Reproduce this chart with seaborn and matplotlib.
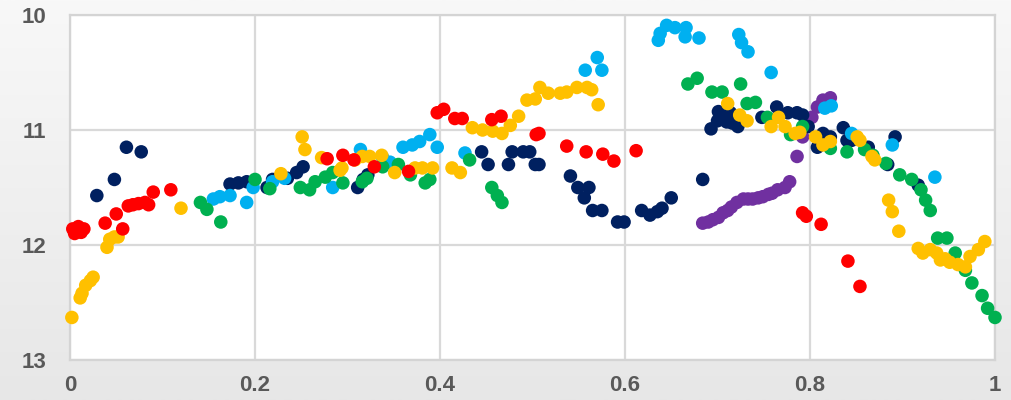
import numpy as np
import pandas as pd
import matplotlib
matplotlib.use("Agg")
import matplotlib.pyplot as plt
import seaborn as sns
from matplotlib.colors import LinearSegmentedColormap

# ---------------- data ----------------
red_x = [0.003, 0.005, 0.009, 0.012, 0.015, 0.038, 0.050, 0.057, 0.063, 0.068, 0.074, 0.081, 0.085, 0.090, 0.109,
         0.278, 0.295, 0.307, 0.329, 0.366,
         0.397, 0.404, 0.416, 0.424, 0.456, 0.466, 0.504, 0.507,
         0.537, 0.558, 0.576, 0.588, 0.612,
         0.792, 0.796, 0.812, 0.841, 0.854]
red_y = [11.86, 11.90, 11.84, 11.89, 11.86, 11.81, 11.73, 11.86, 11.66, 11.65, 11.64, 11.63, 11.65, 11.54, 11.52,
         11.25, 11.22, 11.26, 11.32, 11.36,
         10.85, 10.82, 10.90, 10.90, 10.91, 10.88, 11.04, 11.03,
         11.14, 11.19, 11.21, 11.27, 11.18,
         11.72, 11.75, 11.82, 12.14, 12.36]

yellow_x = [0.002, 0.011, 0.013, 0.017, 0.022, 0.025, 0.040, 0.043, 0.048, 0.052, 0.120,
            0.228, 0.251, 0.254, 0.272, 0.292, 0.294, 0.308, 0.316, 0.324, 0.337, 0.351,
            0.373, 0.381, 0.392, 0.413, 0.422, 0.435, 0.446, 0.457, 0.467, 0.476, 0.485,
            0.494, 0.503, 0.508, 0.517, 0.530, 0.537, 0.548, 0.559, 0.564, 0.571,
            0.711, 0.724, 0.732, 0.758, 0.766, 0.773, 0.784, 0.789, 0.806, 0.814, 0.822,
            0.851, 0.854, 0.867, 0.870, 0.885, 0.889, 0.896, 0.917, 0.922, 0.930, 0.937,
            0.941, 0.946, 0.951, 0.960, 0.968, 0.973, 0.982, 0.989]
yellow_y = [12.63, 12.46, 12.42, 12.35, 12.31, 12.28, 12.02, 11.95, 11.93, 11.93, 11.68,
            11.38, 11.06, 11.17, 11.24, 11.35, 11.33, 11.26, 11.23, 11.23, 11.22, 11.37,
            11.33, 11.33, 11.33, 11.33, 11.37, 10.98, 11.00, 11.01, 11.03, 10.96, 10.88,
            10.74, 10.73, 10.63, 10.68, 10.68, 10.67, 10.63, 10.63, 10.65, 10.78,
            10.77, 10.87, 10.92, 10.97, 10.89, 10.97, 11.03, 11.02, 11.06, 11.13, 11.10,
            11.06, 11.09, 11.23, 11.26, 11.61, 11.71, 11.88, 12.03, 12.07, 12.04, 12.07,
            12.13, 12.12, 12.15, 12.17, 12.19, 12.10, 12.04, 11.97]

navy_x = [0.029, 0.048, 0.061, 0.077,
          0.173, 0.182, 0.191, 0.213, 0.219, 0.235, 0.245, 0.252,
          0.311, 0.317, 0.322,
          0.445, 0.452, 0.474, 0.478, 0.490, 0.497, 0.503, 0.507,
          0.541, 0.549, 0.561, 0.556, 0.565, 0.575, 0.592, 0.599, 0.618, 0.627, 0.635, 0.640, 0.650,
          0.684, 0.693, 0.701, 0.706, 0.714, 0.722, 0.710, 0.700, 0.716, 0.748, 0.764, 0.776, 0.786,
          0.792, 0.798, 0.808, 0.814, 0.822, 0.836, 0.840, 0.845, 0.863, 0.884, 0.892, 0.917]
navy_y = [11.57, 11.43, 11.15, 11.19,
          11.47, 11.46, 11.45, 11.50, 11.43, 11.42, 11.37, 11.32,
          11.50, 11.43, 11.39,
          11.19, 11.30, 11.30, 11.19, 11.19, 11.19, 11.30, 11.30,
          11.40, 11.50, 11.50, 11.59, 11.70, 11.70, 11.80, 11.80, 11.70, 11.74, 11.71, 11.68, 11.59,
          11.43, 10.99, 10.84, 10.90, 10.85, 10.97, 10.93, 10.92, 10.94, 10.89, 10.80, 10.85, 10.85,
          10.87, 10.97, 11.15, 11.03, 11.06, 10.98, 11.09, 11.09, 11.15, 11.30, 11.06, 11.48]

blue_x = [0.155, 0.162, 0.173, 0.191, 0.198, 0.219, 0.232,
          0.284, 0.314, 0.338, 0.346, 0.360, 0.370, 0.378, 0.389, 0.397, 0.427,
          0.557, 0.570, 0.575,
          0.636, 0.638, 0.645, 0.654, 0.666, 0.665, 0.680,
          0.723, 0.726, 0.733, 0.758,
          0.816, 0.823, 0.845, 0.889, 0.935]
blue_y = [11.60, 11.58, 11.57, 11.63, 11.50, 11.45, 11.42,
          11.50, 11.17, 11.24, 11.28, 11.15, 11.13, 11.10, 11.04, 11.15, 11.20,
          10.48, 10.37, 10.48,
          10.22, 10.16, 10.09, 10.11, 10.11, 10.19, 10.20,
          10.17, 10.24, 10.32, 10.50,
          10.81, 10.79, 11.03, 11.13, 11.41]

green_x = [0.141, 0.148, 0.163,
           0.200, 0.216, 0.249, 0.259, 0.265, 0.276, 0.284, 0.295, 0.316, 0.321, 0.338, 0.355,
           0.368, 0.384, 0.389, 0.432, 0.456, 0.462, 0.467,
           0.668, 0.678, 0.694, 0.705, 0.725, 0.732, 0.741, 0.754, 0.779, 0.792,
           0.822, 0.840, 0.859, 0.868, 0.882, 0.897, 0.910, 0.920, 0.925, 0.930,
           0.938, 0.948, 0.957, 0.968, 0.975, 0.986, 0.992, 1.000]
green_y = [11.63, 11.69, 11.80,
           11.43, 11.51, 11.50, 11.52, 11.45, 11.41, 11.37, 11.46, 11.45, 11.42, 11.32, 11.30,
           11.39, 11.46, 11.43, 11.26, 11.50, 11.57, 11.63,
           10.60, 10.55, 10.67, 10.67, 10.60, 10.77, 10.76, 10.89, 11.04, 10.97,
           11.16, 11.19, 11.17, 11.22, 11.29, 11.39, 11.43, 11.52, 11.61, 11.70,
           11.94, 11.94, 12.07, 12.22, 12.33, 12.44, 12.55, 12.63]

purple_x = [0.684, 0.690, 0.695, 0.701, 0.706, 0.711, 0.715, 0.721, 0.728, 0.733, 0.738, 0.744,
            0.749, 0.755, 0.759, 0.765, 0.773, 0.778, 0.786, 0.792, 0.802, 0.808, 0.814, 0.822]
purple_y = [11.81, 11.80, 11.78, 11.76, 11.72, 11.70, 11.67, 11.63, 11.60, 11.60, 11.60, 11.59,
            11.58, 11.56, 11.55, 11.52, 11.50, 11.45, 11.23, 11.06, 10.89, 10.80, 10.74, 10.72]

series_order = ["purple", "navy", "blue", "green", "yellow", "red"]
series_data = {
    "purple": (purple_x, purple_y),
    "navy": (navy_x, navy_y),
    "blue": (blue_x, blue_y),
    "green": (green_x, green_y),
    "yellow": (yellow_x, yellow_y),
    "red": (red_x, red_y),
}
palette = {
    "purple": "#7030A0",
    "navy": "#002060",
    "blue": "#00B0F0",
    "green": "#00B050",
    "yellow": "#FFC000",
    "red": "#FF0000",
}

x_ticks = [0, 0.2, 0.4, 0.6, 0.8, 1]
x_tick_labels = ["0", "0.2", "0.4", "0.6", "0.8", "1"]
y_ticks = [10, 11, 12, 13]
y_tick_labels = ["10", "11", "12", "13"]

frames = [pd.DataFrame({"x": series_data[k][0], "y": series_data[k][1], "series": k})
          for k in series_order]
df = pd.concat(frames, ignore_index=True)

# ---------------- figure ----------------
sns.set_style("white")
plt.rcParams["font.family"] = ["Liberation Sans", "DejaVu Sans"]

fig = plt.figure(figsize=(10.11, 4.0), dpi=100)

# background gradient
bg = fig.add_axes([0, 0, 1, 1], zorder=-10)
grad = np.linspace(0, 1, 256).reshape(-1, 1)
cmap = LinearSegmentedColormap.from_list("bg", ["#F8F8F8", "#E7E7E7"])
bg.imshow(grad, aspect="auto", cmap=cmap, extent=[0, 1, 0, 1], origin="upper")
bg.set_axis_off()

ax = fig.add_axes([70 / 1011, 40 / 400, 925 / 1011, 345 / 400])
ax.set_facecolor("white")

sns.scatterplot(data=df, x="x", y="y", hue="series", palette=palette,
                hue_order=series_order, s=95, linewidth=0, alpha=1,
                legend=False, ax=ax, clip_on=False, zorder=3)

ax.set_xlim(0, 1)
ax.set_ylim(13, 10)
ax.set_xticks(x_ticks)
ax.set_xticklabels(x_tick_labels)
ax.set_yticks(y_ticks)
ax.set_yticklabels(y_tick_labels)
ax.set_xlabel("")
ax.set_ylabel("")

ax.grid(True, color="#D9D9D9", linewidth=1.6, zorder=0)
ax.set_axisbelow(True)
for side in ["left", "bottom", "top", "right"]:
    ax.spines[side].set_visible(True)
    ax.spines[side].set_color("#D4D4D4")
    ax.spines[side].set_linewidth(1.6)

ax.tick_params(axis="both", length=0, labelsize=16, labelcolor="#595959")
ax.tick_params(axis="x", pad=11)
ax.tick_params(axis="y", pad=17)
for lbl in ax.get_xticklabels() + ax.get_yticklabels():
    lbl.set_fontweight("bold")

fig.savefig("out.png", dpi=100)
